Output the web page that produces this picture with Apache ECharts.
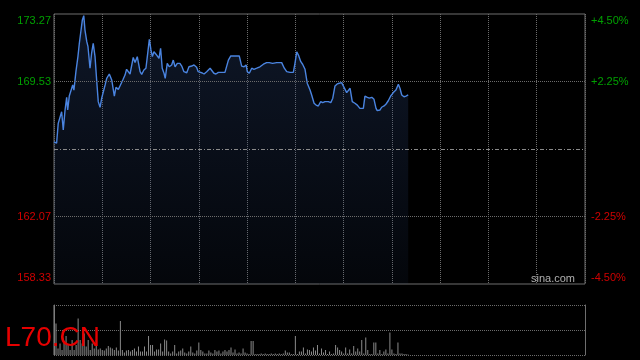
<!DOCTYPE html>
<html><head><meta charset="utf-8">
<script src="https://cdn.jsdelivr.net/npm/echarts@6/dist/echarts.min.js"></script>
<style>html,body{margin:0;padding:0;background:#000;}#c{width:640px;height:360px;}</style>
</head><body><div id="c"></div>
<script>
// tick labels
const priceTicks = [158.33, 162.07, 165.80, 169.53, 173.27];
const pctTicks = ['-4.50%', '-2.25%', '', '+2.25%', '+4.50%'];
const prevClose = 165.80;

// intraday positions (slot index) and prices
const slots = [0,1.3,2.1,3.0,3.8,4.6,5.5,6.3,6.8,7.6,
8.5,9.3,9.9,10.9,11.9,12.6,13.4,14.1,14.8,15.4,
16.3,16.9,17.9,18.7,19.5,20.4,21.2,22.0,22.9,23.7,
24.5,25.4,26.2,27.5,28.7,30.0,30.8,32.0,32.8,34.2,
35.3,36.1,37.8,38.6,39.4,40.3,41.4,42.8,43.6,44.7,
45.7,46.4,47.4,48.2,48.9,49.7,50.6,51.4,52.2,53.0,
53.8,54.7,55.3,56.3,57.3,58.5,59.3,60.2,61.3,62.6,
63.5,64.6,66.0,67.1,68.5,69.6,70.9,71.7,72.6,73.4,
74.6,75.9,77.6,78.4,79.5,80.5,81.7,83.4,85.0,85.9,
86.7,87.9,90.0,92.1,93.3,94.5,95.5,96.1,97.1,98.3,
99.4,100.8,102.4,104.1,105.7,107.0,107.9,108.7,110.7,113.2,
113.7,114.5,115.7,116.5,117.3,119.0,119.8,120.7,121.7,122.7,
123.6,124.8,125.9,127.3,128.1,129.3,130.3,131.4,132.6,133.6,
134.7,135.6,136.4,137.6,138.6,139.7,140.8,141.8,143.0,143.8,
144.7,145.5,146.3,147.2,148.3,149.6,150.8,152.1,153.8,154.6,
155.8,156.8,158.0,159.1,160.1,160.7,162.1,162.9,164.1,165.1,
166.2,167.4,168.7,170.0,171.2,172.0,172.9,174.0,175.0,176.1];

const prices = [166.20,166.12,167.22,167.24,167.86,166.85,167.96,168.66,167.96,168.73,
168.79,169.34,169.06,170.08,170.91,171.65,171.74,172.94,173.18,172.38,
171.74,171.46,170.27,171.10,171.65,170.91,169.62,168.42,168.11,168.61,
168.66,169.34,169.71,169.95,169.62,168.73,169.21,169.10,169.29,169.62,
169.89,170.21,169.95,169.99,170.87,170.58,170.91,170.08,169.93,170.17,
170.27,170.91,171.87,171.28,170.91,171.18,171.06,171.10,170.82,171.37,
170.27,169.99,169.71,170.54,170.35,170.45,170.72,170.35,170.54,170.54,
170.39,170.08,170.02,170.35,170.39,170.45,170.32,170.08,169.99,170.02,
169.95,170.08,170.27,170.21,169.99,169.95,170.04,170.04,170.04,169.99,
170.72,170.95,170.95,170.95,170.39,170.35,170.45,170.08,169.99,170.27,
170.21,170.27,170.35,170.49,170.58,170.58,170.50,170.54,170.58,170.58,
170.63,170.27,170.08,170.17,170.04,170.04,170.54,171.18,170.95,170.63,
170.49,170.21,169.44,169.06,168.79,168.33,168.23,168.18,168.42,168.36,
168.42,168.36,168.42,168.36,168.61,169.29,169.40,169.44,169.47,169.44,
169.10,168.92,168.97,169.16,168.42,168.33,168.23,168.05,168.05,168.73,
168.66,168.61,168.66,168.55,168.05,167.92,167.96,168.11,168.18,168.29,
168.47,168.73,168.92,169.06,169.38,169.16,168.79,168.69,168.73,168.79];

// volume per slot (relative units)
const volumes = [100,63,13,23,10,27,38,20,10,30,10,20,73,30,23,43,17,30,10,23,13,30,11,13,10,9,13,18,15,13,10,15,9,68,10,5,9,10,7,10,13,7,17,7,7,17,7,38,20,20,7,11,11,23,7,31,29,
7,3,7,20,3,7,9,13,5,3,7,17,5,3,9,25,10,7,3,3,9,5,3,10,7,9,3,7,10,7,10,15,5,11,3,5,3,13,5,3,2,28,28,2,2,2,3,2,3,2,2,3,2,3,2,3,2,3,9,5,
5,2,2,38,2,7,7,15,3,11,10,7,15,9,20,3,13,5,10,2,7,2,3,20,15,10,7,3,15,3,11,3,18,7,13,7,30,3,35,10,2,2,25,25,3,10,2,7,11,3,45,11,3,2,25,3,3,2,2,1];

const SLOTS_TOTAL = 264;
const FONT = '"Liberation Sans", Arial, sans-serif';
const GREEN = '#00a000', RED = '#d00000';
const PMIN = priceTicks[0], PMAX = priceTicks[priceTicks.length - 1];
const PSTEP = (PMAX - PMIN) / (priceTicks.length - 1);

const lineData = slots.map((s, i) => [s, prices[i]]);
const volData = volumes.map((v, i) => [i, v]);

function priceLabel(v) {
  const i = Math.round((v - PMIN) / PSTEP);
  const t = priceTicks[i];
  if (t === prevClose) return '';
  const cls = i === priceTicks.length - 1 ? 'gt' : (i === 0 ? 'rb' : (t > prevClose ? 'g' : 'r'));
  return '{' + cls + '|' + t.toFixed(2) + '}';
}
function pctLabel(v) {
  const i = Math.round((v + 4.5) / 2.25);
  const t = pctTicks[i];
  if (!t) return '';
  const cls = i === pctTicks.length - 1 ? 'gt' : (i === 0 ? 'rb' : (t[0] === '+' ? 'g' : 'r'));
  return '{' + cls + '|' + t + '}';
}
const rich = {
  gt: {color: GREEN, fontSize: 11, fontFamily: FONT, padding: [14, 0, 0, 0]},
  g: {color: GREEN, fontSize: 11, fontFamily: FONT},
  r: {color: RED, fontSize: 11, fontFamily: FONT},
  rb: {color: RED, fontSize: 11, fontFamily: FONT, padding: [0, 0, 12, 0]}
};
const dotted = {color: '#6c6c6c', type: [1, 1], width: 1};

const chart = echarts.init(document.getElementById('c'), null, {renderer: 'canvas'});
chart.setOption({
  backgroundColor: '#000',
  animation: false,
  grid: [
    {left: 54, right: 55, top: 14, height: 270, show: true, borderColor: '#6e6e6e', borderWidth: 1},
    {left: 54, right: 55, top: 305, height: 50}
  ],
  xAxis: [
    {type: 'value', gridIndex: 0, min: 0, max: SLOTS_TOTAL, interval: 24,
     axisLine: {show: false}, axisTick: {show: false}, axisLabel: {show: false},
     splitLine: {show: true, lineStyle: dotted}},
    {type: 'value', gridIndex: 1, min: 0, max: SLOTS_TOTAL,
     axisLine: {show: false}, axisTick: {show: false}, axisLabel: {show: false}, splitLine: {show: false}}
  ],
  yAxis: [
    {type: 'value', gridIndex: 0, position: 'left', min: PMIN, max: PMAX, interval: PSTEP,
     axisLine: {show: false}, axisTick: {show: false}, splitLine: {show: false},
     axisLabel: {margin: 3, formatter: priceLabel, rich: rich}},
    {type: 'value', gridIndex: 0, position: 'right', min: -4.5, max: 4.5, interval: 2.25,
     axisLine: {show: false}, axisTick: {show: false}, splitLine: {show: false},
     axisLabel: {margin: 6, formatter: pctLabel, rich: rich}},
    {type: 'value', gridIndex: 1, position: 'left', min: 0, max: 100, interval: 50,
     axisLine: {show: true, lineStyle: {color: '#6e6e6e'}}, axisTick: {show: false}, axisLabel: {show: false},
     splitLine: {show: true, lineStyle: dotted}},
    {type: 'value', gridIndex: 1, position: 'right', min: 0, max: 100, interval: 50,
     axisLine: {show: true, lineStyle: {color: '#6e6e6e'}}, axisTick: {show: false}, axisLabel: {show: false},
     splitLine: {show: false}}
  ],
  series: [
    {type: 'line', xAxisIndex: 0, yAxisIndex: 0, data: lineData, showSymbol: false, symbol: 'none',
     lineStyle: {color: '#4a84e0', width: 1.4},
     areaStyle: {origin: 'start', color: new echarts.graphic.LinearGradient(0, 0, 0, 1, [
       {offset: 0, color: 'rgba(45,72,125,0.45)'},
       {offset: 1, color: 'rgba(45,72,125,0.12)'}
     ])},
     markLine: {silent: true, symbol: 'none', label: {show: false},
       data: priceTicks.slice(1, -1).map(t => ({
         yAxis: t,
         lineStyle: t === prevClose ? {color: '#8a8a8a', type: [4, 2, 1, 2], width: 1} : dotted
       }))}
    },
    {type: 'bar', xAxisIndex: 1, yAxisIndex: 2, data: volData, barWidth: 1,
     itemStyle: {color: '#8a8a8a'}}
  ],
  graphic: [
    {type: 'text', left: 531, top: 273, z: 10, style: {text: 'sina.com', fill: '#b0b0b0', font: '11px ' + FONT}},
    {type: 'text', left: 5, top: 324, z: 20, style: {text: 'L70.CN', fill: '#e60000', font: '28px ' + FONT}}
  ]
});
</script>
</body></html>
